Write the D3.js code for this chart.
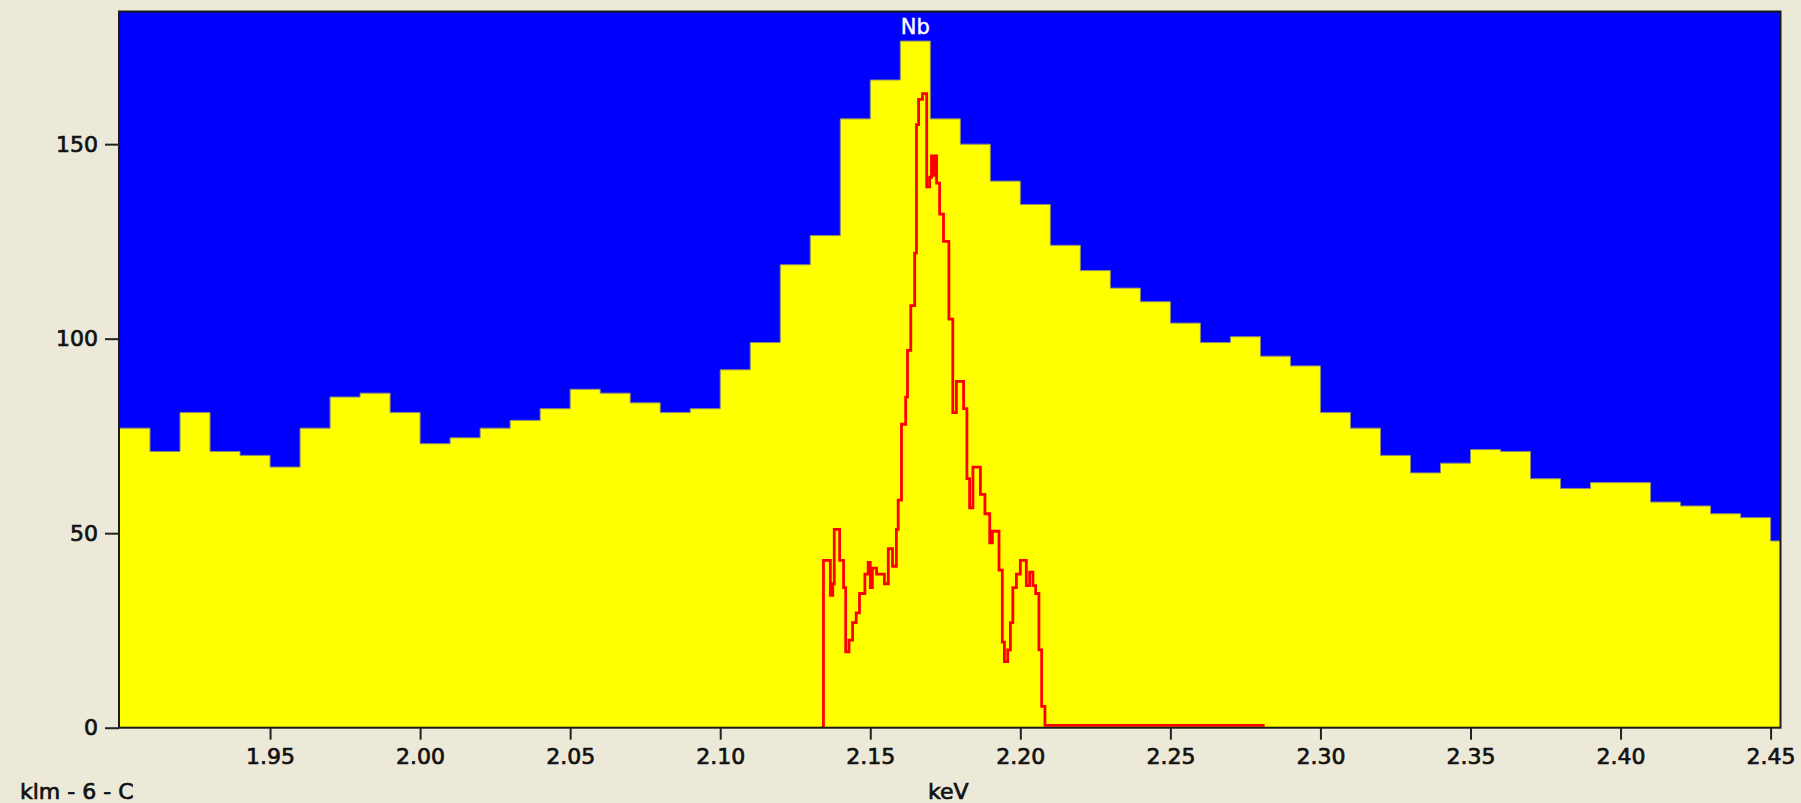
<!DOCTYPE html>
<html><head><meta charset="utf-8">
<script src="https://cdn.jsdelivr.net/npm/d3@7"></script>
<style>
html,body{margin:0;padding:0;background:#ece9d8;overflow:hidden;}
svg{display:block;}
text{font-family:"DejaVu Sans",Verdana,sans-serif;}
</style></head><body>
<svg id="chart" width="1801" height="803"></svg>
<script>
// Histogram channels (start energy, keV) and counts
const binStarts = [1.90,1.91,1.92,1.93,1.94,1.95,1.96,1.97,1.98,1.99,
  2.00,2.01,2.02,2.03,2.04,2.05,2.06,2.07,2.08,2.09,
  2.10,2.11,2.12,2.13,2.14,2.15,2.16,2.17,2.18,2.19,
  2.20,2.21,2.22,2.23,2.24,2.25,2.26,2.27,2.28,2.29,
  2.30,2.31,2.32,2.33,2.34,2.35,2.36,2.37,2.38,2.39,
  2.40,2.41,2.42,2.43,2.44,2.45];
const binCounts = [77,71,81,71,70,67,77,85,86,81,
  73,74.5,77,79,82,87,86,83.5,81,82,
  92,99,119,126.5,156.5,166.5,176.5,156.5,150,140.5,
  134.5,124,117.5,113,109.5,104,99,100.5,95.5,93,
  81,77,70,65.5,68,71.5,71,64,61.5,63,
  63,58,57,55,54,48];
const binWidth = 0.01;

// Reference (red) step profile: step start energies (keV) and values
const refKeV = [2.1337,2.1344,2.1367,2.1375,2.1380,2.1398,2.1411,2.1418,2.1429,2.1441,
  2.1453,2.1464,2.1482,2.1493,2.1500,2.1507,2.1521,2.1547,2.1560,2.1574,
  2.1587,2.1593,2.1604,2.1618,2.1624,2.1635,2.1648,2.1654,2.1661,2.1674,
  2.1688,2.1698,2.1704,2.1711,2.1714,2.1721,2.1731,2.1744,2.1762,2.1775,
  2.1787,2.1811,2.1822,2.1831,2.1842,2.1867,2.1882,2.1898,2.1907,2.1929,
  2.1940,2.1947,2.1958,2.1967,2.1975,2.1987,2.2000,2.2020,2.2031,2.2042,
  2.2051,2.2062,2.2071,2.2082];
const refCounts = [0,43,34,37,51,43,36,19.5,22.5,27,
  29.5,34.5,39.5,42.5,36,41,39.5,37,46,41.5,
  51,58.5,78,85,97,108.5,122,155,161.5,163,
  139,141.5,147,142,147,140,132,125,105,81,
  89,82,64,56.5,67,60,55,47.5,50.5,40.5,
  22,17,20,27,36,39.5,43,36.5,40,36.5,
  34.5,20,5.5,0.6];
const refEnd = 2.2814;

const xTickValues = [1.95,2.00,2.05,2.10,2.15,2.20,2.25,2.30,2.35,2.40,2.45];
const yTickValues = [0,50,100,150];
const peakNames = ["Nb"];
const peakKeV = [2.165];
const xAxisTitle = "keV";
const sampleName = "klm - 6 - C";

const svg = d3.select("#chart");
const L = 120, R = 1780.5, T = 11.5, B = 727.7;
const x = d3.scaleLinear().domain([1.90, 2.4533]).range([L, R]);
const y = d3.scaleLinear().domain([0, 184.1]).range([B, T]);

svg.append("defs").append("clipPath").attr("id","plotclip")
  .append("rect").attr("x",L).attr("y",T).attr("width",R-L).attr("height",B-T);

// background
svg.append("rect").attr("x",L).attr("y",T).attr("width",R-L).attr("height",B-T).attr("fill","#0000ff");

const g = svg.append("g").attr("clip-path","url(#plotclip)");
const histPts = binStarts.map((s,i)=>[s, binCounts[i]]);
histPts.push([binStarts[binStarts.length-1]+binWidth, binCounts[binCounts.length-1]]);

g.append("path").datum(histPts)
  .attr("d", d3.area().x(d=>x(d[0])).y0(y(0)).y1(d=>y(d[1])).curve(d3.curveStepAfter))
  .attr("fill","#ffff00");
g.append("path").datum(histPts)
  .attr("d", d3.line().x(d=>x(d[0])).y(d=>y(d[1])).curve(d3.curveStepAfter))
  .attr("fill","none").attr("stroke","#8a8a70").attr("stroke-width",1);

const refPts = refKeV.map((k,i)=>[k, refCounts[i]]);
refPts.push([refEnd, refCounts[refCounts.length-1]]);
g.append("path").datum(refPts)
  .attr("d", d3.line().x(d=>x(d[0])).y(d=>y(d[1])).curve(d3.curveStepAfter))
  .attr("fill","none").attr("stroke","#ff0000").attr("stroke-width",2.8)
  .attr("stroke-linejoin","miter");

// peak label
svg.selectAll("text.peak").data(peakNames).join("text").attr("class","peak")
  .attr("x",(d,i)=>x(peakKeV[i])).attr("y",34)
  .attr("text-anchor","middle").attr("fill","#ffffff").attr("font-size",21)
  .attr("stroke","#ffffff").attr("stroke-width",0.4)
  .text(d=>d);

// frame
svg.append("rect").attr("x",L-1).attr("y",T).attr("width",R-L+1).attr("height",B-T)
  .attr("fill","none").attr("stroke","#1a1a1a").attr("stroke-width",2);

// axes
const xAxis = d3.axisBottom(x).tickValues(xTickValues).tickFormat(d3.format(".2f"))
  .tickSize(12).tickSizeOuter(0).tickPadding(9);
const xg = svg.append("g").attr("transform",`translate(0,${B})`).call(xAxis);
xg.select(".domain").remove();
xg.selectAll(".tick line").attr("stroke","#222").attr("stroke-width",2);
xg.selectAll(".tick text").attr("font-size",22).attr("fill","#111")
  .attr("font-family","DejaVu Sans").attr("stroke","#111").attr("stroke-width",0.7);

const yAxis = d3.axisLeft(y).tickValues(yTickValues).tickFormat(d3.format("d"))
  .tickSize(14).tickSizeOuter(0).tickPadding(7);
const yg = svg.append("g").attr("transform",`translate(${L-1},0)`).call(yAxis);
yg.select(".domain").remove();
yg.selectAll(".tick line").attr("stroke","#222").attr("stroke-width",2);
yg.selectAll(".tick text").attr("font-size",22).attr("fill","#111")
  .attr("font-family","DejaVu Sans").attr("stroke","#111").attr("stroke-width",0.7);

// titles
svg.append("text").attr("x",(L+R)/2 - 2).attr("y",799).attr("text-anchor","middle")
  .attr("font-size",22).attr("fill","#111").attr("stroke","#111").attr("stroke-width",0.7)
  .text(xAxisTitle);
svg.append("text").attr("x",20).attr("y",799).attr("text-anchor","start")
  .attr("font-size",22).attr("fill","#111").attr("stroke","#111").attr("stroke-width",0.7)
  .text(sampleName);
</script>
</body></html>
